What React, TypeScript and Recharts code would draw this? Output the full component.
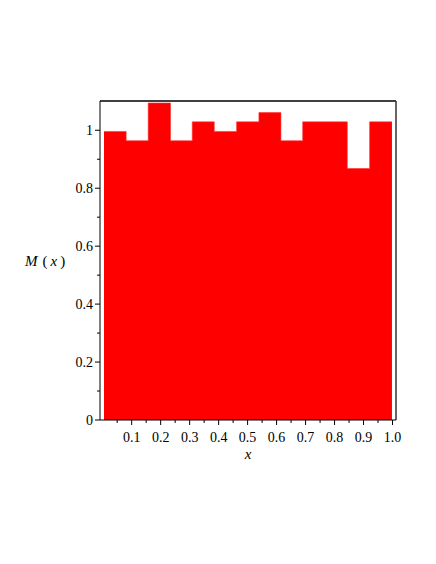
import React from "react";
import { ComposedChart, Area, XAxis, YAxis, ReferenceLine } from "recharts";

// Histogram bin edges (x) and bin heights M(x)
const binEdges = [0.0045, 0.081, 0.157, 0.234, 0.309, 0.385, 0.462, 0.539, 0.615, 0.690, 0.768, 0.844, 0.921, 0.998];
const binHeights = [0.996, 0.964, 1.094, 0.964, 1.029, 0.996, 1.029, 1.061, 0.964, 1.029, 1.029, 0.868, 1.029];

const xTicks = [0.05, 0.1, 0.15, 0.2, 0.25, 0.3, 0.35, 0.4, 0.45, 0.5, 0.55, 0.6, 0.65, 0.7, 0.75, 0.8, 0.85, 0.9, 0.95, 1.0];
const xMajorLabels: Record<string, string> = {
  "0.1": "0.1", "0.2": "0.2", "0.3": "0.3", "0.4": "0.4", "0.5": "0.5",
  "0.6": "0.6", "0.7": "0.7", "0.8": "0.8", "0.9": "0.9", "1": "1.0",
};
const yTicks = [0, 0.1, 0.2, 0.3, 0.4, 0.5, 0.6, 0.7, 0.8, 0.9, 1];
const yMajorLabels: Record<string, string> = {
  "0": "0", "0.2": "0.2", "0.4": "0.4", "0.6": "0.6", "0.8": "0.8", "1": "1",
};

const xDomain: [number, number] = [-0.0093, 1.012];
const yDomain: [number, number] = [0, 1.101];

const data = binEdges.map((x, i) => ({
  x,
  m: i < binHeights.length ? binHeights[i] : binHeights[binHeights.length - 1],
}));

const FONT = "'Liberation Serif', 'DejaVu Serif', serif";

const XTick = (props: any) => {
  const { x, y, payload } = props;
  const key = String(Number(payload.value.toFixed(2)));
  const label = xMajorLabels[key];
  const major = label !== undefined;
  return (
    <g>
      <line x1={x} x2={x} y1={y} y2={y + (major ? 5 : 3)} stroke="#000" strokeWidth={1} />
      {major && (
        <text x={x} y={y + 22} textAnchor="middle" fontFamily={FONT} fontSize={14} fill="#000">
          {label}
        </text>
      )}
    </g>
  );
};

const YTick = (props: any) => {
  const { x, y, payload } = props;
  const key = String(Number(payload.value.toFixed(2)));
  const label = yMajorLabels[key];
  const major = label !== undefined;
  return (
    <g>
      <line x1={x} x2={x - (major ? 5 : 3)} y1={y} y2={y} stroke="#000" strokeWidth={1} />
      {major && (
        <text x={x - 7} y={y + 5} textAnchor="end" fontFamily={FONT} fontSize={14} fill="#000">
          {label}
        </text>
      )}
    </g>
  );
};

const YLabel = (props: any) => {
  const vb = props.viewBox || {};
  return (
    <text x={(vb.x || 0) + 25} y={(vb.y || 0) + (vb.height || 0) / 2 + 5} fontFamily={FONT} fontSize={15} fill="#000">
      <tspan fontStyle="italic">M</tspan>
      <tspan dx={5}>(</tspan>
      <tspan fontStyle="italic" dx={3}>x</tspan>
      <tspan dx={3}>)</tspan>
    </text>
  );
};

const XLabel = (props: any) => {
  const vb = props.viewBox || {};
  return (
    <text x={(vb.x || 0) + (vb.width || 0) / 2} y={(vb.y || 0) + 39} textAnchor="middle" fontFamily={FONT} fontSize={15} fontStyle="italic" fill="#000">
      x
    </text>
  );
};

export default function App() {
  return (
    <div style={{ position: "absolute", left: 0, top: 0, width: 436, height: 564, background: "#fff" }}>
      <ComposedChart
        width={436}
        height={564}
        data={data}
        margin={{ top: 101, right: 40, bottom: 104, left: 0 }}
      >
        <XAxis
          dataKey="x"
          type="number"
          domain={xDomain}
          allowDataOverflow
          ticks={xTicks}
          interval={0}
          tickSize={0}
          tickMargin={0}
          tickLine={false}
          tick={<XTick />}
          height={40}
          axisLine={{ stroke: "#000", strokeWidth: 1 }}
          label={<XLabel />}
        />
        <YAxis
          type="number"
          domain={yDomain}
          allowDataOverflow
          ticks={yTicks}
          interval={0}
          tickSize={0}
          tickMargin={0}
          tickLine={false}
          tick={<YTick />}
          width={100}
          axisLine={{ stroke: "#000", strokeWidth: 1 }}
          label={<YLabel />}
        />
        <Area
          dataKey="m"
          type="stepAfter"
          fill="#ff0000"
          fillOpacity={1}
          stroke="#ff3333"
          strokeWidth={0.6}
          isAnimationActive={false}
          dot={false}
          activeDot={false}
        />
        <ReferenceLine y={yDomain[1]} stroke="#000" strokeWidth={1.3} ifOverflow="visible" />
        <ReferenceLine x={xDomain[1]} stroke="#333" strokeWidth={1.5} ifOverflow="visible" />
      </ComposedChart>
    </div>
  );
}
